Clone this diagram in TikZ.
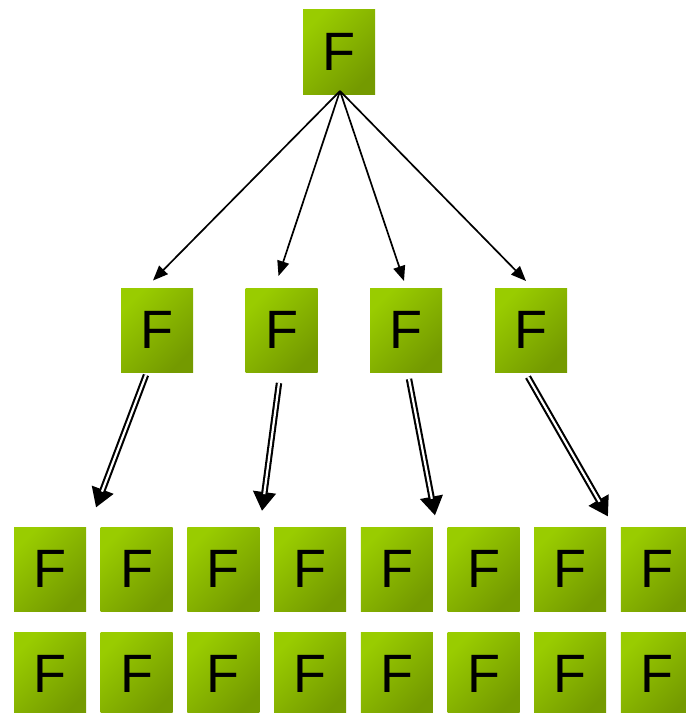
\documentclass[tikz,border=0pt]{standalone}
\usepackage{fontspec}
\setmainfont{Liberation Sans}
\usetikzlibrary{arrows.meta}
\definecolor{gLight}{RGB}{153,204,0}
\definecolor{gDark}{RGB}{116,154,0}
\begin{document}
\begin{tikzpicture}[x=1pt,y=-1pt,
  fbox/.style={inner sep=0pt, minimum width=72pt, minimum height=84pt,
    top color=gLight, bottom color=gDark, shading angle=45,
    font=\fontsize{54}{54}\selectfont, text=black},
  thinarrow/.style={line width=1.7pt, -{Triangle[length=15pt,width=12pt]}},
  dblouter/.style={line width=6.4pt, -{Triangle[length=19pt,width=22pt]}},
  dblinner/.style={white, line width=2.2pt, shorten >=17pt}
]
\useasboundingbox (0,0) rectangle (686,713);
% top
\node[fbox, minimum height=85pt] (top) at (339,51.5) {F};
% middle row
\node[fbox] (m1) at (157,330) {F};
\node[fbox] (m2) at (281.5,330) {F};
\node[fbox] (m3) at (406,330) {F};
\node[fbox] (m4) at (531,330) {F};
% bottom rows
\foreach \i/\x in {1/50,2/136.7,3/223.4,4/310.1,5/396.8,6/483.5,7/570.2,8/656.9}{
  \node[fbox] (a\i) at (\x,569) {F};
  \node[fbox] (b\i) at (\x,674) {F};
}
% free ends of connectors
\coordinate (s0) at (340,91);
\coordinate (t1) at (153,280.5);
\coordinate (t2) at (278.5,276);
\coordinate (t3) at (404,281);
\coordinate (t4) at (526,281);
\coordinate (d1s) at (146,375);
\coordinate (d1e) at (96,507.5);
\coordinate (d2s) at (279,383);
\coordinate (d2e) at (262,511);
\coordinate (d3s) at (409,379);
\coordinate (d3e) at (435,515.5);
\coordinate (d4s) at (528,377);
\coordinate (d4e) at (608,516.5);
% single arrows
\draw[thinarrow] (s0) -- (t1);
\draw[thinarrow] (s0) -- (t2);
\draw[thinarrow] (s0) -- (t3);
\draw[thinarrow] (s0) -- (t4);
% double arrows
\foreach \k in {1,2,3,4}{
  \draw[dblouter] (d\k s) -- (d\k e);
  \draw[dblinner] (d\k s) -- (d\k e);
}
\end{tikzpicture}
\end{document}
